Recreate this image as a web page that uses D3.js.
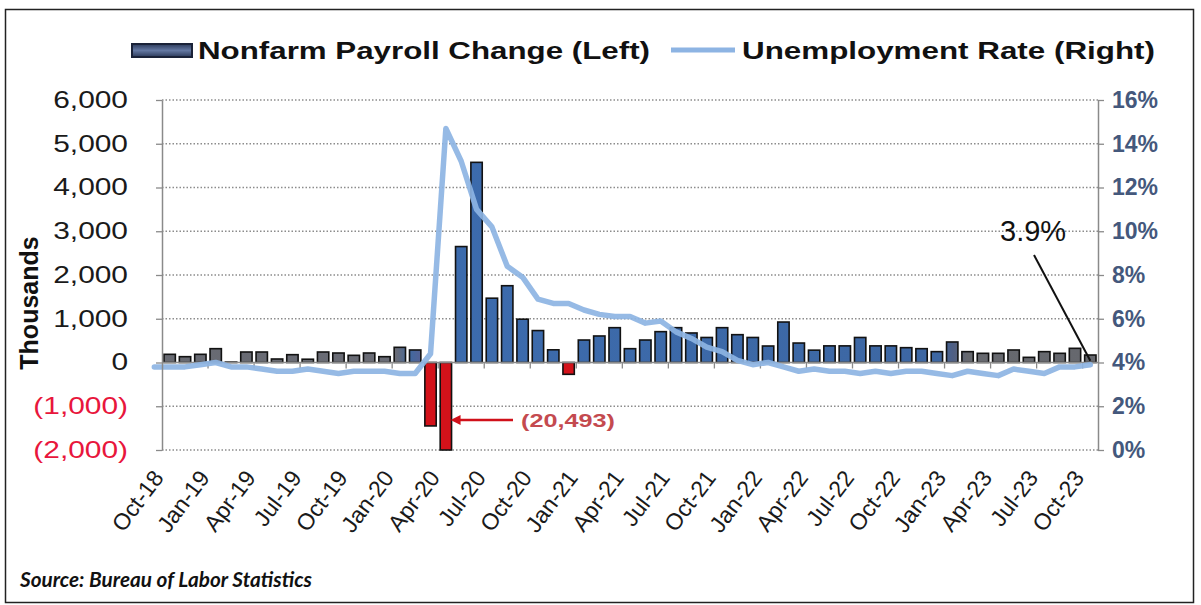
<!doctype html>
<html>
<head>
<meta charset="utf-8">
<script src="https://cdnjs.cloudflare.com/ajax/libs/d3/7.8.5/d3.min.js"></script>
<style>
  body { margin: 0; background: #fff; }
  svg { display: block; font-family: "Liberation Sans", Arial, sans-serif; }
</style>
</head>
<body>
<svg id="chart" width="1201" height="605"></svg>
<script>
// categories (monthly, Oct-18 .. Oct-23)
var months = ["Oct-18","Nov-18","Dec-18","Jan-19","Feb-19","Mar-19","Apr-19","May-19","Jun-19","Jul-19","Aug-19","Sep-19",
  "Oct-19","Nov-19","Dec-19","Jan-20","Feb-20","Mar-20","Apr-20","May-20","Jun-20","Jul-20","Aug-20","Sep-20",
  "Oct-20","Nov-20","Dec-20","Jan-21","Feb-21","Mar-21","Apr-21","May-21","Jun-21","Jul-21","Aug-21","Sep-21",
  "Oct-21","Nov-21","Dec-21","Jan-22","Feb-22","Mar-22","Apr-22","May-22","Jun-22","Jul-22","Aug-22","Sep-22",
  "Oct-22","Nov-22","Dec-22","Jan-23","Feb-23","Mar-23","Apr-23","May-23","Jun-23","Jul-23","Aug-23","Sep-23","Oct-23"];

// nonfarm payroll change, thousands (left axis)
var payroll = [187,133,187,316,10,240,240,80,179,75,240,217,
  164,217,133,347,286,-1450,-20493,2650,4575,1470,1755,990,
  730,290,-270,514,606,796,316,514,705,796,675,572,
  796,636,572,377,925,445,282,380,380,572,380,380,
  339,316,248,469,248,210,210,286,118,248,210,324,171];

// unemployment rate, % (right axis) - line starts one month earlier (Sep-18)
var rateMonths = ["Sep-18"].concat(months);
var unemployment = [3.8,3.8,3.8,3.9,4.0,3.8,3.8,3.7,3.6,3.6,3.7,3.6,3.5,
  3.6,3.6,3.6,3.5,3.5,4.4,14.7,13.2,11.0,10.2,8.4,7.9,
  6.9,6.7,6.7,6.4,6.2,6.1,6.1,5.8,5.9,5.4,5.1,4.7,
  4.5,4.1,3.9,4.0,3.8,3.6,3.7,3.6,3.6,3.5,3.6,3.5,
  3.6,3.6,3.5,3.4,3.6,3.5,3.4,3.7,3.6,3.5,3.8,3.8,3.9];

var leftTicks = [-2000,-1000,0,1000,2000,3000,4000,5000,6000];
var rightTicks = [0,2,4,6,8,10,12,14,16];
var labelEvery = 3;

var svg = d3.select("#chart");
var pL = 162, pR = 1098, pT = 100, pB = 450;

var x = d3.scaleBand().domain(months).range([pL, pR]).paddingInner(0.26).paddingOuter(0.13);
var yL = d3.scaleLinear().domain([-2000, 6000]).range([pB, pT]).clamp(true);
var yR = d3.scaleLinear().domain([0, 16]).range([pB, pT]);
var gapHalf = (x.step() - x.bandwidth()) / 2;
var xLine = d3.scaleLinear().domain([1, rateMonths.length - 1])
  .range([x(months[0]) + x.bandwidth() / 2, x(months[months.length - 1]) + x.bandwidth() / 2]);

// outer frame
svg.append("rect").attr("x", 5.5).attr("y", 9.5).attr("width", 1188).attr("height", 593)
  .attr("fill", "none").attr("stroke", "#222").attr("stroke-width", 1.5);

var defs = svg.append("defs");
var g1 = defs.append("linearGradient").attr("id", "barFill").attr("gradientUnits", "userSpaceOnUse")
  .attr("x1", pL).attr("x2", pR).attr("y1", 0).attr("y2", 0);
[[0, "#686a72"], [0.25, "#6a6c76"], [0.265, "#41689f"], [0.28, "#5a5f92"], [0.3, "#3c6bad"],
 [0.83, "#3d67a3"], [0.845, "#4f5f84"], [0.86, "#67696f"], [1, "#66686e"]]
  .forEach(function(s){ g1.append("stop").attr("offset", s[0]).attr("stop-color", s[1]); });
var g2 = defs.append("linearGradient").attr("id", "swatch").attr("x1", 0).attr("x2", 0).attr("y1", 0).attr("y2", 1);
[[0, "#2b3a5a"], [0.5, "#6478a2"], [1, "#2b3a5a"]]
  .forEach(function(s){ g2.append("stop").attr("offset", s[0]).attr("stop-color", s[1]); });
var mk = defs.append("marker").attr("id", "arrow").attr("viewBox", "0 0 10 10").attr("refX", 1).attr("refY", 5)
  .attr("markerWidth", 12).attr("markerHeight", 10).attr("markerUnits", "userSpaceOnUse").attr("orient", "auto-start-reverse");
mk.append("path").attr("d", "M0,0 L10,5 L0,10 Z").attr("fill", "#d0101a");

// gridlines
svg.append("g").selectAll("line").data(leftTicks.filter(function(d){ return d !== 0; })).enter().append("line")
  .attr("x1", pL).attr("x2", pR).attr("y1", function(d){ return yL(d); }).attr("y2", function(d){ return yL(d); })
  .attr("stroke", "#8c8c8c").attr("stroke-width", 1.3).attr("stroke-dasharray", "1.5,2");

// bars
svg.append("g").selectAll("rect").data(payroll).enter().append("rect")
  .attr("x", function(d, i){ return x(months[i]); })
  .attr("width", x.bandwidth())
  .attr("y", function(d){ return yL(Math.max(d, 0)); })
  .attr("height", function(d){ return Math.abs(yL(d) - yL(0)); })
  .attr("fill", function(d){ return d < 0 ? "#d3121a" : "url(#barFill)"; })
  .attr("stroke", "#121212").attr("stroke-width", 1.6);

// zero line and category ticks
svg.append("line").attr("x1", pL).attr("x2", pR).attr("y1", yL(0)).attr("y2", yL(0))
  .attr("stroke", "#8a8a8a").attr("stroke-width", 1.3);
svg.append("g").selectAll("line").data(months.filter(function(m, i){ return i > 0 && i % labelEvery === 0; })).enter()
  .append("line")
  .attr("x1", function(m){ return x(m) - gapHalf; }).attr("x2", function(m){ return x(m) - gapHalf; })
  .attr("y1", yL(0)).attr("y2", yL(0) + 6).attr("stroke", "#8a8a8a").attr("stroke-width", 1.3);

// unemployment line
svg.append("path").datum(unemployment)
  .attr("d", d3.line().x(function(d, i){ return xLine(i); }).y(function(d){ return yR(d); }))
  .attr("fill", "none").attr("stroke", "#8db4e3").attr("stroke-width", 5.5)
  .attr("stroke-linejoin", "round").attr("stroke-linecap", "round").attr("opacity", 0.92);

// left axis
var fmtL = function(d){ var s = d3.format(",")(Math.abs(d)); return d < 0 ? "(" + s + ")" : s; };
var axL = svg.append("g").attr("transform", "translate(" + pL + ",0)")
  .call(d3.axisLeft(yL).tickValues(leftTicks).tickFormat(fmtL).tickSizeInner(6).tickSizeOuter(0).tickPadding(0));
axL.select(".domain").attr("stroke", "#8a8a8a").attr("stroke-width", 1.5);
axL.selectAll(".tick line").attr("stroke", "#8a8a8a").attr("stroke-width", 1.3);
axL.selectAll(".tick text").attr("x", null)
  .attr("transform", "translate(-34,0) scale(1.3,1)")
  .attr("font-size", 23).attr("fill", function(d){ return d < 0 ? "#e8163c" : "#1a1a1a"; });

// right axis
var axR = svg.append("g").attr("transform", "translate(" + pR + ",0)")
  .call(d3.axisRight(yR).tickValues(rightTicks).tickFormat(function(d){ return d + "%"; }).tickSizeInner(6).tickSizeOuter(0).tickPadding(8));
axR.select(".domain").attr("stroke", "#8a8a8a").attr("stroke-width", 1.5);
axR.selectAll(".tick line").attr("stroke", "#8a8a8a").attr("stroke-width", 1.3);
axR.selectAll(".tick text").attr("font-size", 23).attr("font-weight", "bold").attr("fill", "#44587c");

// x labels
svg.append("g").selectAll("text").data(months.filter(function(m, i){ return i % labelEvery === 0; })).enter()
  .append("text")
  .attr("transform", function(m){ return "translate(" + (x(m) + x.bandwidth() / 2 - 5) + "," + (pB + 28) + ") rotate(-53)"; })
  .attr("text-anchor", "end").attr("font-size", 23).attr("fill", "#1a1a1a")
  .text(function(m){ return m; });

// axis title
svg.append("text").attr("transform", "translate(38,303) rotate(-90)").attr("text-anchor", "middle")
  .attr("font-size", 25).attr("font-weight", "bold").attr("fill", "#111").text("Thousands");

// legend
svg.append("rect").attr("x", 132).attr("y", 44).attr("width", 60).attr("height", 13)
  .attr("fill", "url(#swatch)").attr("stroke", "#1a2238").attr("stroke-width", 2);
svg.append("text").attr("x", 198).attr("y", 59).attr("font-size", 23).attr("font-weight", "bold").attr("fill", "#111")
  .attr("textLength", 452).attr("lengthAdjust", "spacingAndGlyphs").text("Nonfarm Payroll Change (Left)");
svg.append("line").attr("x1", 671).attr("x2", 735).attr("y1", 50).attr("y2", 50)
  .attr("stroke", "#8db4e3").attr("stroke-width", 5);
svg.append("text").attr("x", 742).attr("y", 59).attr("font-size", 23).attr("font-weight", "bold").attr("fill", "#111")
  .attr("textLength", 413).attr("lengthAdjust", "spacingAndGlyphs").text("Unemployment Rate (Right)");

// annotations
var apr = months.indexOf("Apr-20");
svg.append("line").attr("x1", 513).attr("x2", x(months[apr]) + x.bandwidth() + 8)
  .attr("y1", 420).attr("y2", 420).attr("stroke", "#d0101a").attr("stroke-width", 2.5)
  .attr("marker-end", "url(#arrow)");
svg.append("text").attr("x", 521).attr("y", 427).attr("font-size", 18).attr("font-weight", "bold")
  .attr("fill", "#c44a4f").attr("textLength", 94).attr("lengthAdjust", "spacingAndGlyphs")
  .text("(" + d3.format(",")(Math.abs(payroll[apr])) + ")");

var last = unemployment.length - 1;
svg.append("text").attr("x", 1000).attr("y", 241).attr("font-size", 29).attr("fill", "#111")
  .text(unemployment[last].toFixed(1) + "%");
svg.append("line").attr("x1", 1034).attr("y1", 255).attr("x2", xLine(last)).attr("y2", yR(unemployment[last]) - 4)
  .attr("stroke", "#111").attr("stroke-width", 2);

// source
svg.append("text").attr("x", 20).attr("y", 587).attr("font-family", "Lato, 'Open Sans', sans-serif")
  .attr("font-size", 21).attr("font-weight", "bold").attr("font-style", "italic").attr("fill", "#111")
  .attr("textLength", 292).attr("lengthAdjust", "spacingAndGlyphs").text("Source: Bureau of Labor Statistics");
</script>
</body>
</html>
